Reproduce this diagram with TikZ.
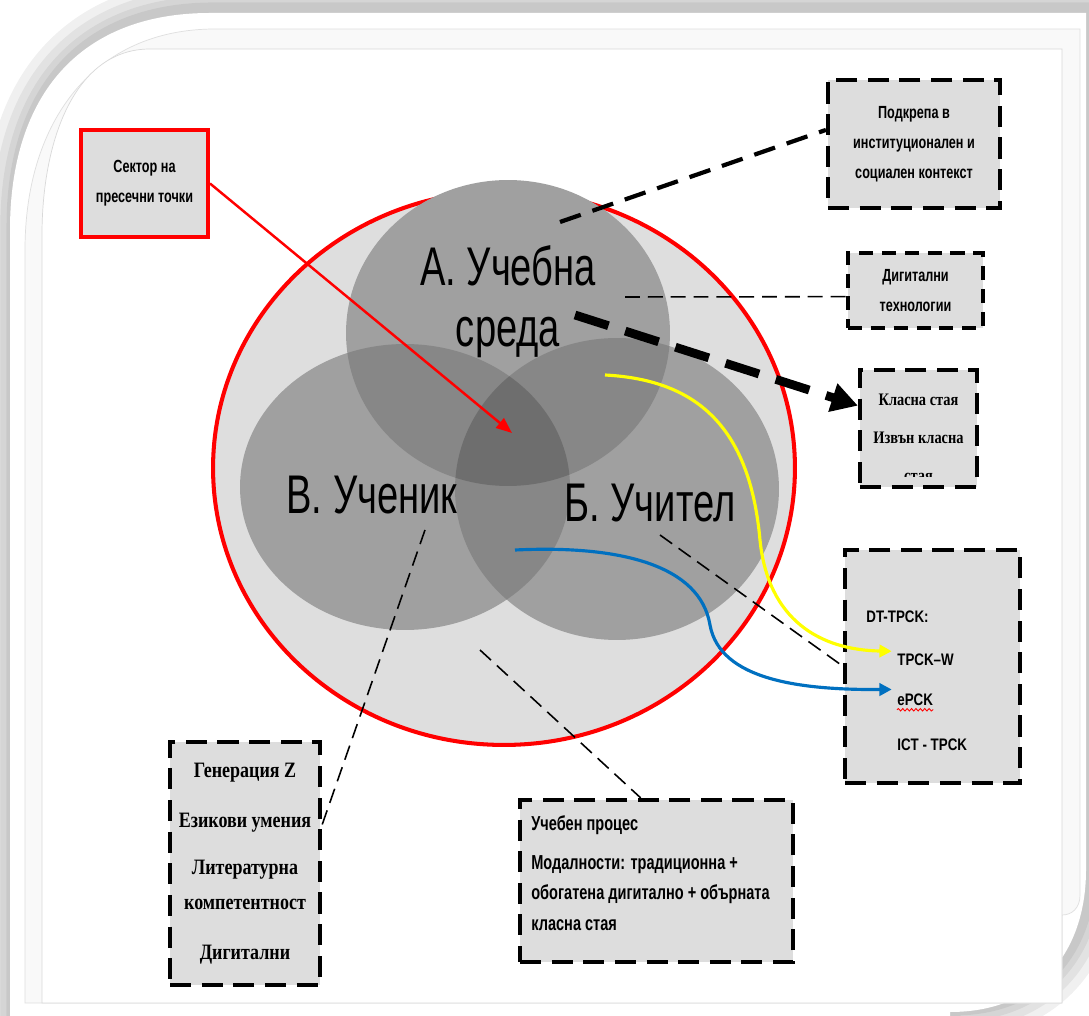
\documentclass[tikz,border=0pt]{standalone}
\usepackage{fontspec}
\setmainfont{Liberation Sans}
\newfontfamily\narrowsans[FakeStretch=0.8]{Liberation Sans}
\newfontfamily\tallsans[FakeStretch=0.72]{Liberation Sans}
\newfontfamily\labelsans[FakeStretch=0.7]{Liberation Sans}
\newfontfamily\narrowserif[FakeStretch=0.82]{Liberation Serif}
\usetikzlibrary{arrows.meta, calc, decorations.pathmorphing}
\definecolor{boxgray}{HTML}{DDDDDD}
\definecolor{circgray}{HTML}{DEDEDE}
\definecolor{ellgray}{HTML}{A0A0A0}
\definecolor{pairgray}{HTML}{878787}
\definecolor{coregray}{HTML}{6E6E6E}
\definecolor{tpblue}{HTML}{0070C0}
\definecolor{tpyellow}{HTML}{FFFF00}

\begin{document}
\begin{tikzpicture}[x=0.02cm, y=-0.02cm,
	box/.style={fill=boxgray, inner sep=0pt, align=center},
	dashbox/.style={box, draw=black, line width=2.4pt, dash pattern=on 12pt off 6pt},
	sansbox/.style={font=\tallsans\bfseries\fontsize{10}{17}\selectfont},
	serifbox/.style={font=\narrowserif\bfseries\fontsize{12.5}{19.8}\selectfont},
	dtitem/.style={anchor=west, inner sep=0pt, font=\narrowsans\bfseries\fontsize{9.5}{11}\selectfont},
	biglabel/.style={align=center, inner sep=0pt, font=\labelsans\fontsize{31}{34.6}\selectfont},
	thindash/.style={black, line width=0.9pt, dash pattern=on 8.5pt off 4.5pt},
	thickdash/.style={black, line width=2.4pt, dash pattern=on 12.5pt off 7pt},
	frameshape/.style={insert path={(10,1030) -- (10,230) .. controls (10,95) and (80,13) .. (210,13) -- (1086,13) -- (1086,870) .. controls (1086,950) and (1040,1012) .. (950,1012) -- (950,1030) -- cycle}},
]
	\useasboundingbox (0,0) rectangle (1089,1016);

	% Drawing the page frame with its soft shadow
	\foreach \w in {34,24,15,8}
		\draw[xshift=2pt, yshift=2pt, frameshape, black, opacity=0.06, line width=\w pt];
	\fill[white, frameshape];
	\draw[gray!25, fill=gray!5, line width=0.4pt] (25,1003) -- (25,250) .. controls (25,120) and (95,29) .. (215,29) -- (1080,29) -- (1080,895) .. controls (1080,908) and (1072,915) .. (1062,915) -- (1062,1003) -- cycle;
	\draw[gray!30, fill=white, line width=0.4pt] (42,1003) -- (42,235) .. controls (42,140) and (75,49) .. (150,49) -- (1062,49) -- (1062,1003) -- cycle;

	% Drawing the outer circle and the three overlapping fields
	\draw[red, line width=2.3pt, fill=circgray] (504,468) ellipse [x radius=5.82cm, y radius=5.54cm];
	\fill[ellgray] (508,333) ellipse [x radius=3.24cm, y radius=3.06cm];
	\fill[ellgray] (617,489) ellipse [x radius=3.24cm, y radius=3.02cm];
	\fill[ellgray] (405,487) ellipse [x radius=3.3cm, y radius=2.86cm];
	\begin{scope}
		\clip (508,333) ellipse [x radius=3.24cm, y radius=3.06cm];
		\fill[pairgray] (617,489) ellipse [x radius=3.24cm, y radius=3.02cm];
		\fill[pairgray] (405,487) ellipse [x radius=3.3cm, y radius=2.86cm];
	\end{scope}
	\begin{scope}
		\clip (617,489) ellipse [x radius=3.24cm, y radius=3.02cm];
		\fill[pairgray] (405,487) ellipse [x radius=3.3cm, y radius=2.86cm];
		\clip (508,333) ellipse [x radius=3.24cm, y radius=3.06cm];
		\fill[coregray] (405,487) ellipse [x radius=3.3cm, y radius=2.86cm];
	\end{scope}

	% Labels of the three fields
	\node[biglabel] (env) at (508,302) {А. Учебна\\среда};
	\node[biglabel] (pupil) at (372,495) {В. Ученик};
	\node[biglabel] (teach) at (650,503) {Б. Учител};

	% Free ends of the connectors inside the circle
	\coordinate (core) at (512,433);
	\coordinate (envtip) at (560,222);
	\coordinate (digtip) at (625,297);
	\coordinate (clstip) at (575,315);
	\coordinate (ytip) at (605,375);
	\coordinate (btip) at (515,550);
	\coordinate (teachtip) at (660,535);
	\coordinate (pupiltip) at (425,530);
	\coordinate (proctip) at (480,650);

	% Boxes round the circle
	\node[box, draw=red, line width=2.3pt, sansbox, minimum width=2.54cm, minimum height=2.14cm] (sec) at (144.5,183.5) {Сектор на\\пресечни точки};
	\node[dashbox, sansbox, minimum width=3.44cm, minimum height=2.56cm] (sup) at (914,144) {Подкрепа в\\институционален и\\социален контекст};
	\node[dashbox, sansbox, line width=2pt, dash pattern=on 8pt off 5pt, minimum width=2.7cm, minimum height=1.5cm] (dig) at (915.5,290.5) {Дигитални\\технологии};
	\node[dashbox, minimum width=2.34cm, minimum height=2.34cm] (cls) at (918.5,428.5) {};
	\begin{scope}
		\clip (862,372) rectangle (975,477);
		\node[align=center, inner sep=0pt, anchor=north, font=\narrowserif\bfseries\fontsize{10}{21.5}\selectfont] (clstxt) at (918.5,394) {Класна стая\\Извън класна\\стая};
	\end{scope}
	\node[dashbox, line width=2pt, minimum width=3.5cm, minimum height=4.66cm] (dt) at (932.5,666.5) {};
	\node[dtitem] (dtlab) at (866,617) {DT-TPCK:};
	\node[dtitem] (tpckw) at (897,660) {TPCK–W};
	\node[dtitem] (epck) at (897,700) {ePCK};
	\node[dtitem] (ict) at (897,745) {ICT - TPCK};
	\draw[red, line width=0.5pt, decorate, decoration={snake, amplitude=0.7pt, segment length=2.5pt}] ([yshift=-2pt]epck.south west) -- ([yshift=-2pt]epck.south east);
	\node[dashbox, serifbox, minimum width=3cm, minimum height=4.86cm] (lbox) at (245,863.5) {Генерация Z\\[8.5pt]Езикови умения\\[7.4pt]Литературна\\компетентност\\[8.5pt]Дигитални};
	\node[dashbox, minimum width=5.46cm, minimum height=3.24cm] (proc) at (656.5,881) {};
	\node[anchor=north west, align=left, inner sep=0pt, font=\tallsans\bfseries\fontsize{11.5}{17.6}\selectfont] (proctxt) at (531,815) {Учебен процес\\[4.5pt]Модалности: традиционна +\\обогатена дигитално + обърната\\класна стая};

	% Connectors
	\draw[red, line width=1.4pt, -{Triangle[length=9pt, width=7pt]}] (sec.east) -- (core);
	\draw[thickdash] (envtip) -- ([yshift=8pt]sup.west);
	\draw[thindash] (digtip) -- ([yshift=-3.5pt]dig.west);
	\draw[black, line width=5pt, dash pattern=on 20pt off 10pt, -{Triangle[length=15pt, width=16pt]}] (clstip) -- ([yshift=13pt]cls.west);
	\draw[tpyellow, line width=1.8pt, -{Triangle[length=7pt, width=7pt]}] (ytip) .. controls (700,380) and (750,430) .. (760,540) .. controls (768,620) and (820,650) .. ([xshift=-3pt, yshift=5pt]tpckw.west);
	\draw[tpblue, line width=1.8pt, -{Triangle[length=7pt, width=7pt]}] (btip) .. controls (620,545) and (700,565) .. (710,625) .. controls (720,680) and (800,690) .. ([xshift=-3pt, yshift=6pt]epck.west);
	\draw[thindash] (teachtip) -- (dt.west);
	\draw[thindash] (pupiltip) -- ([yshift=22pt]lbox.east);
	\draw[thindash] (proctip) -- ([xshift=-9pt]proc.north);
\end{tikzpicture}
\end{document}
